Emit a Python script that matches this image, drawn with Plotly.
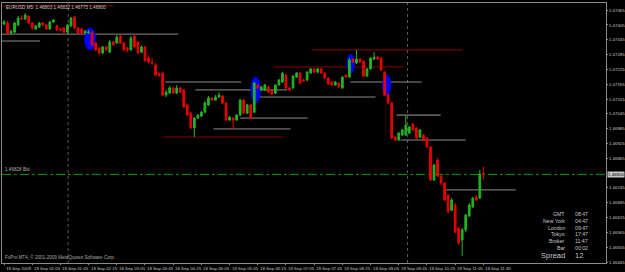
import plotly.graph_objects as go

# ---------------- data ----------------
opens = [1.47409, 1.47413, 1.47372, 1.47376, 1.47405, 1.47433, 1.47429, 1.47441, 1.47413, 1.47389,
         1.47397, 1.47413, 1.47405, 1.47389, 1.47417, 1.47401, 1.47389, 1.47393, 1.47376, 1.47401,
         1.47437, 1.47393, 1.47389, 1.47372, 1.47372, 1.47376, 1.47332, 1.47312, 1.47291, 1.47316,
         1.47295, 1.47336, 1.47332, 1.47360, 1.47332, 1.47312, 1.47304, 1.47360, 1.47336, 1.47295,
         1.47316, 1.47271, 1.47255, 1.47243, 1.47206, 1.47210, 1.47121, 1.47129, 1.47150, 1.47129,
         1.47150, 1.47142, 1.47081, 1.47048, 1.46988, 1.47028, 1.47036, 1.47052, 1.47081, 1.47109,
         1.47101, 1.47113, 1.47117, 1.47089, 1.47020, 1.47028, 1.47020, 1.47040, 1.47101, 1.47048,
         1.47081, 1.47052, 1.47162, 1.47142, 1.47142, 1.47154, 1.47137, 1.47129, 1.47162, 1.47174,
         1.47202, 1.47150, 1.47150, 1.47194, 1.47210, 1.47182, 1.47182, 1.47210, 1.47227, 1.47214,
         1.47227, 1.47210, 1.47190, 1.47174, 1.47162, 1.47170, 1.47150, 1.47202, 1.47194, 1.47267,
         1.47251, 1.47267, 1.47259, 1.47198, 1.47227, 1.47267, 1.47275, 1.47271, 1.47214, 1.47121,
         1.47089, 1.46951, 1.46939, 1.46959, 1.46959, 1.46967, 1.47004, 1.46988, 1.46951, 1.46959,
         1.46947, 1.46911, 1.46777, 1.46858, 1.46793, 1.46765, 1.46716, 1.46655, 1.46676, 1.46583,
         1.46534, 1.46575, 1.46631, 1.46668, 1.46708, 1.46704, 1.46803]
highs = [1.47425, 1.47421, 1.47385, 1.47417, 1.47441, 1.47445, 1.47453, 1.47445, 1.47417, 1.47405,
         1.47417, 1.47417, 1.47409, 1.47421, 1.47429, 1.47405, 1.47393, 1.47397, 1.47409, 1.47437,
         1.47441, 1.47397, 1.47393, 1.47385, 1.47385, 1.47380, 1.47336, 1.47316, 1.47320, 1.47320,
         1.47344, 1.47340, 1.47364, 1.47364, 1.47336, 1.47316, 1.47360, 1.47364, 1.47340, 1.47324,
         1.47320, 1.47283, 1.47271, 1.47251, 1.47214, 1.47214, 1.47142, 1.47158, 1.47154, 1.47162,
         1.47154, 1.47146, 1.47085, 1.47052, 1.47032, 1.47044, 1.47056, 1.47097, 1.47117, 1.47113,
         1.47121, 1.47133, 1.47121, 1.47093, 1.47036, 1.47032, 1.47044, 1.47105, 1.47105, 1.47085,
         1.47085, 1.47174, 1.47166, 1.47158, 1.47166, 1.47158, 1.47142, 1.47166, 1.47186, 1.47214,
         1.47206, 1.47154, 1.47202, 1.47214, 1.47214, 1.47186, 1.47218, 1.47231, 1.47231, 1.47231,
         1.47231, 1.47214, 1.47194, 1.47178, 1.47178, 1.47174, 1.47198, 1.47206, 1.47271, 1.47271,
         1.47304, 1.47271, 1.47263, 1.47231, 1.47275, 1.47295, 1.47279, 1.47275, 1.47218, 1.47125,
         1.47093, 1.46955, 1.46971, 1.46984, 1.47040, 1.46996, 1.47008, 1.46992, 1.46984, 1.46963,
         1.46951, 1.46915, 1.46842, 1.46866, 1.46797, 1.46769, 1.46720, 1.46704, 1.46684, 1.46587,
         1.46583, 1.46639, 1.46684, 1.46708, 1.46716, 1.46818, 1.46832]
lows = [1.47405, 1.47368, 1.47368, 1.47372, 1.47401, 1.47425, 1.47425, 1.47409, 1.47385, 1.47385,
        1.47393, 1.47401, 1.47385, 1.47385, 1.47413, 1.47380, 1.47380, 1.47372, 1.47372, 1.47397,
        1.47389, 1.47368, 1.47364, 1.47368, 1.47368, 1.47316, 1.47299, 1.47283, 1.47287, 1.47299,
        1.47291, 1.47320, 1.47328, 1.47328, 1.47299, 1.47295, 1.47299, 1.47312, 1.47287, 1.47291,
        1.47255, 1.47251, 1.47243, 1.47198, 1.47194, 1.47117, 1.47113, 1.47125, 1.47125, 1.47125,
        1.47129, 1.47069, 1.47036, 1.46984, 1.46951, 1.47024, 1.47032, 1.47048, 1.47077, 1.47097,
        1.47097, 1.47109, 1.47085, 1.47016, 1.47016, 1.46984, 1.47016, 1.47036, 1.47044, 1.47044,
        1.47024, 1.47048, 1.47146, 1.47137, 1.47137, 1.47129, 1.47121, 1.47125, 1.47158, 1.47170,
        1.47146, 1.47137, 1.47146, 1.47190, 1.47166, 1.47174, 1.47178, 1.47206, 1.47210, 1.47210,
        1.47206, 1.47186, 1.47162, 1.47158, 1.47158, 1.47150, 1.47146, 1.47190, 1.47190, 1.47251,
        1.47247, 1.47251, 1.47194, 1.47194, 1.47223, 1.47263, 1.47263, 1.47218, 1.47117, 1.47085,
        1.46943, 1.46935, 1.46935, 1.46955, 1.46955, 1.46963, 1.46975, 1.46943, 1.46947, 1.46935,
        1.46907, 1.46773, 1.46773, 1.46789, 1.46757, 1.46692, 1.46643, 1.46651, 1.46562, 1.46514,
        1.46469, 1.46566, 1.46627, 1.46664, 1.46692, 1.46700, 1.46775]
closes = [1.47417, 1.47372, 1.47380, 1.47413, 1.47433, 1.47429, 1.47445, 1.47413, 1.47393, 1.47401,
          1.47413, 1.47405, 1.47389, 1.47417, 1.47425, 1.47385, 1.47385, 1.47376, 1.47405, 1.47433,
          1.47393, 1.47372, 1.47372, 1.47380, 1.47376, 1.47324, 1.47304, 1.47291, 1.47316, 1.47304,
          1.47336, 1.47324, 1.47356, 1.47332, 1.47304, 1.47304, 1.47352, 1.47316, 1.47291, 1.47316,
          1.47263, 1.47255, 1.47251, 1.47202, 1.47202, 1.47121, 1.47133, 1.47150, 1.47129, 1.47150,
          1.47133, 1.47073, 1.47040, 1.46988, 1.47028, 1.47040, 1.47052, 1.47089, 1.47109, 1.47101,
          1.47113, 1.47121, 1.47089, 1.47020, 1.47032, 1.47020, 1.47040, 1.47101, 1.47048, 1.47081,
          1.47028, 1.47170, 1.47150, 1.47154, 1.47162, 1.47133, 1.47125, 1.47162, 1.47182, 1.47210,
          1.47150, 1.47142, 1.47198, 1.47210, 1.47170, 1.47178, 1.47214, 1.47227, 1.47214, 1.47227,
          1.47210, 1.47190, 1.47166, 1.47162, 1.47174, 1.47154, 1.47194, 1.47194, 1.47263, 1.47255,
          1.47267, 1.47255, 1.47198, 1.47227, 1.47271, 1.47275, 1.47267, 1.47223, 1.47121, 1.47089,
          1.46947, 1.46939, 1.46967, 1.46980, 1.47000, 1.46992, 1.46980, 1.46947, 1.46980, 1.46939,
          1.46911, 1.46777, 1.46838, 1.46793, 1.46765, 1.46696, 1.46647, 1.46696, 1.46566, 1.46522,
          1.46575, 1.46635, 1.46676, 1.46704, 1.46696, 1.46801, 1.46800]

x_tick_bars = [0, 8, 16, 24, 32, 40, 48, 56, 64, 72, 80, 88, 96, 104, 112, 120, 128, 136]
x_tick_labels = ["18 Sep 2009", "18 Sep 01:05", "18 Sep 01:45", "18 Sep 02:25", "18 Sep 03:05",
                 "18 Sep 03:45", "18 Sep 04:25", "18 Sep 05:05", "18 Sep 05:45", "18 Sep 06:25",
                 "18 Sep 07:05", "18 Sep 07:45", "18 Sep 08:25", "18 Sep 09:05", "18 Sep 09:45",
                 "18 Sep 10:25", "18 Sep 11:05", "18 Sep 11:45"]
price_ticks = [1.46445, 1.46505, 1.46565, 1.46625, 1.46685, 1.46745, 1.46865, 1.46925,
               1.46985, 1.47045, 1.47105, 1.47165, 1.47225, 1.47285, 1.47345, 1.47405, 1.47465]
bid_price = 1.46800
title_text = "EURUSD,M5  1.46803 1.46832 1.46775 1.46800"

# drawn horizontal segments: price, from bar, to bar, kind
seg_prices = [1.47482, 1.47368, 1.47340, 1.47174, 1.47142, 1.47235, 1.47113, 1.47028,
              1.46984, 1.46951, 1.47304, 1.47174, 1.47040, 1.46939, 1.46737]
seg_start = [-0.6, -0.6, -0.6, 45.7, 54.3, 76.4, 72.2, 67.0, 59.4, 45.2, 87.5, 98.3, 111.4, 112.5, 125.3]
seg_end = [31.0, 49.4, 10.2, 67.3, 80.4, 113.4, 105.4, 86.1, 81.3, 79.3, 130.1, 118.5, 123.9, 131.0, 145.2]
seg_kind = ["red", "gray", "gray", "gray", "gray", "red", "dark", "gray", "gray", "red",
            "red", "gray", "dark", "gray", "gray"]
kind_style = {"red": ("#8a0000", 1), "gray": ("#8c8c8c", 1), "dark": ("#5a5a5a", 1.6)}

# blue ellipses: bar range and price range
ell_x0 = [22.9, 70.1, 97.4, 107.4]
ell_x1 = [25.9, 72.7, 99.4, 109.7]
ell_lo = [1.47304, 1.47089, 1.47210, 1.47121]
ell_hi = [1.47393, 1.47194, 1.47287, 1.47202]

vlines = [18.2, 114.5]

info_labels = ["GMT", "New York", "London", "Tokyo", "Broker", "Bar"]
info_values = ["08:47", "04:47", "09:47", "17:47", "11:47", "00:02"]
spread_value = "12"

# ---------------- figure ----------------
W, H = 625, 272
ML, MR, MT, MB = 2, 19, 3, 9
PW, PH = W - ML - MR, H - MT - MB

bars = list(range(len(opens)))
fig = go.Figure()
fig.add_trace(go.Candlestick(
    x=bars, open=opens, high=highs, low=lows, close=closes,
    increasing=dict(line=dict(color="#22b422", width=1), fillcolor="#22b422"),
    decreasing=dict(line=dict(color="#e80000", width=1), fillcolor="#e80000"),
    whiskerwidth=0, showlegend=False, hoverinfo="skip"))

shapes = []
for xs in vlines:
    shapes.append(dict(type="line", xref="x", yref="paper", x0=xs, x1=xs, y0=0, y1=1,
                       line=dict(color="#5c5c5c", width=1, dash="dot"), layer="below"))
for p, a, b, k in zip(seg_prices, seg_start, seg_end, seg_kind):
    c, w = kind_style[k]
    shapes.append(dict(type="line", xref="x", yref="y", x0=a, x1=b, y0=p, y1=p,
                       line=dict(color=c, width=w), layer="below"))
for a, b, lo, hi in zip(ell_x0, ell_x1, ell_lo, ell_hi):
    shapes.append(dict(type="circle", xref="x", yref="y", x0=a, x1=b, y0=lo, y1=hi,
                       fillcolor="#0000ff", line=dict(color="#0000ff", width=1), layer="below"))
shapes.append(dict(type="line", xref="paper", yref="y", x0=0, x1=1, y0=bid_price, y1=bid_price,
                   line=dict(color="#00a000", width=1, dash="dashdot"), layer="below"))

FONT = "Liberation Sans, Arial, sans-serif"
TXT = "#c4c4c4"
ann = []
# time axis labels (placed at their bars through the x axis, text to the right of the tick)
for b, lab in zip(x_tick_bars, x_tick_labels):
    ann.append(dict(xref="x", yref="paper", x=b, y=0, xanchor="left", yanchor="top",
                    xshift=0, yshift=-1, text=lab, showarrow=False,
                    font=dict(size=4.4, color=TXT, family=FONT)))
ann.append(dict(xref="paper", yref="paper", x=0.003, y=0.999, xanchor="left", yanchor="top",
                text=title_text, showarrow=False, font=dict(size=4.6, color=TXT, family=FONT)))
ann.append(dict(xref="paper", yref="y", x=0.002, y=bid_price, xanchor="left", yanchor="bottom",
                text="1.46828 Bid", showarrow=False,
                font=dict(size=4.6, color="#b0b0b0", family=FONT)))
ann.append(dict(xref="paper", yref="paper", x=0.002, y=0.004, xanchor="left", yanchor="bottom",
                text="FxPro MT4, \u00a9 2001-2009 MetaQuotes Software Corp.", showarrow=False,
                font=dict(size=4.6, color="#a8a8a8", family=FONT)))
ann.append(dict(xref="paper", yref="y", x=1, y=bid_price, xanchor="left", yanchor="middle",
                xshift=1, text="1.46800", showarrow=False, bgcolor="#c8c8c8", borderpad=0,
                font=dict(size=4.4, color="#000000", family=FONT)))
info_y = [214, 221, 228, 234, 241, 248]
for lab, val, py in zip(info_labels, info_values, info_y):
    yp = (H - MB - py) / PH
    ann.append(dict(xref="paper", yref="paper", x=(567 - ML) / PW, y=yp, xanchor="right",
                    yanchor="middle", text=lab, showarrow=False,
                    font=dict(size=5.2, color=TXT, family=FONT)))
    ann.append(dict(xref="paper", yref="paper", x=(573 - ML) / PW, y=yp, xanchor="left",
                    yanchor="middle", text=val, showarrow=False,
                    font=dict(size=5.2, color=TXT, family=FONT)))
yp = (H - MB - 255) / PH
ann.append(dict(xref="paper", yref="paper", x=(567 - ML) / PW, y=yp, xanchor="right",
                yanchor="middle", text="Spread", showarrow=False,
                font=dict(size=7.5, color=TXT, family=FONT)))
ann.append(dict(xref="paper", yref="paper", x=(573 - ML) / PW, y=yp, xanchor="left",
                yanchor="middle", text=spread_value, showarrow=False,
                font=dict(size=7.5, color=TXT, family=FONT)))

fig.update_layout(
    width=W, height=H, margin=dict(l=ML, r=MR, t=MT, b=MB, autoexpand=False),
    paper_bgcolor="#000000", plot_bgcolor="#000000",
    shapes=shapes, annotations=ann, showlegend=False,
    xaxis=dict(range=[-0.57, 170.8], rangeslider=dict(visible=False), showgrid=False,
               zeroline=False, tickmode="array", tickvals=x_tick_bars, showticklabels=False,
               ticks="outside", ticklen=1, tickcolor="#8c8c8c",
               showline=True, linecolor="#8c8c8c",
               linewidth=1, mirror=True, fixedrange=True),
    yaxis=dict(range=[1.46441, 1.47494], side="right", showgrid=False, zeroline=False,
               tickmode="array", tickvals=price_ticks, tickformat=".5f", ticks="outside",
               ticklen=1, ticklabelstandoff=0, tickcolor="#8c8c8c",
               tickfont=dict(size=4.4, color=TXT, family=FONT),
               showline=True, linecolor="#8c8c8c", linewidth=1, mirror=True, fixedrange=True),
)
fig.write_html("out.html")
